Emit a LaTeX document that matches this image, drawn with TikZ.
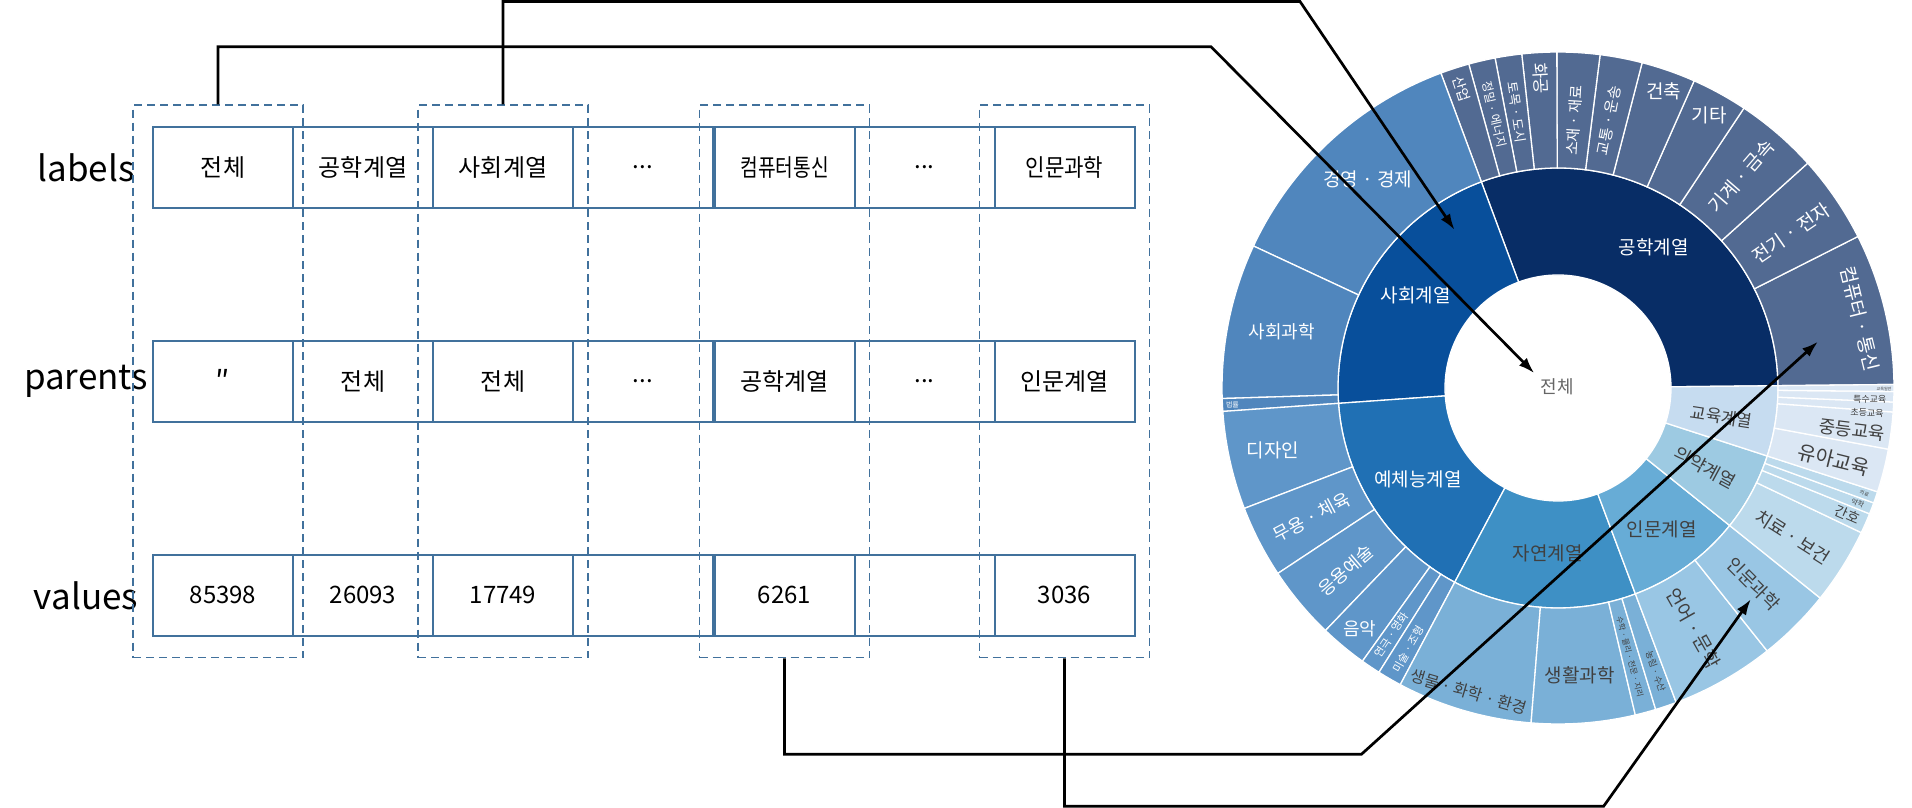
\documentclass[tikz,border=0pt]{standalone}
\usepackage{fontspec}
\setmainfont{Noto Sans CJK KR}
\usetikzlibrary{arrows.meta, positioning, fit}

\definecolor{cellblue}{RGB}{65,113,156}
\definecolor{engD}{RGB}{8,45,102}
\definecolor{engL}{RGB}{82,106,146}
\definecolor{socD}{RGB}{8,79,155}
\definecolor{socL}{RGB}{80,134,189}
\definecolor{artD}{RGB}{32,112,180}
\definecolor{artL}{RGB}{95,150,201}
\definecolor{natD}{RGB}{62,144,197}
\definecolor{natL}{RGB}{122,176,215}
\definecolor{humD}{RGB}{103,172,214}
\definecolor{humL}{RGB}{153,198,228}
\definecolor{medD}{RGB}{157,202,226}
\definecolor{medL}{RGB}{188,218,236}
\definecolor{eduD}{RGB}{198,220,240}
\definecolor{eduL}{RGB}{219,231,244}
\definecolor{darktext}{RGB}{64,64,64}

\newcommand{\fsz}[1]{\fontsize{#1}{#1}\selectfont}
\newcommand{\md}{\hspace{0.22em}·\hspace{0.22em}}
% one piece of the ring: start angle, end angle, inner r, outer r, colour
\newcommand{\ringseg}[5]{\fill[#5, draw=white, line width=1.3pt] (#1:#3pt) arc[start angle=#1, end angle=#2, radius=#3pt] -- (#2:#4pt) arc[start angle=#2, end angle=#1, radius=#4pt] -- cycle;}

\begin{document}
\begin{tikzpicture}[x=1pt, y=1pt, node distance=0pt, auto]
            \tikzstyle{cell} = [rectangle, draw=cellblue, line width=2pt, outer sep=0pt, inner sep=0pt, minimum width=140pt, minimum height=80.5pt, font=\fsz{24}]
            \tikzstyle{group} = [rectangle, draw=cellblue, line width=1.3pt, dash pattern=on 8pt off 5pt, inner xsep=15pt, inner ysep=22pt]
            \tikzstyle{rowname} = [font=\fsz{35}]
            \tikzstyle{line} = [draw, -{Latex[length=16pt, width=11pt]}, line width=2.7pt]
            \tikzstyle{wl} = [text=white, inner sep=0pt]
            \tikzstyle{dl} = [text=darktext, inner sep=0pt]

            \useasboundingbox (0,0) rectangle (1912,808);

            % table
            \node [rowname] (nlab) at (86,640.6) {labels};
            \node [rowname] (npar) at (86,426.5) {parents};
            \node [rowname] (nval) at (86,212.6) {values};

            \node [cell] (lab1) at (223,640.6) {전체};
            \node [cell, right=of lab1] (lab2) {공학계열};
            \node [cell, right=of lab2] (lab3) {사회계열};
            \node [cell, right=of lab3] (lab4) {...};
            \node [cell, right=1.5pt of lab4] (lab5) {\scalebox{0.8}[1]{컴퓨터통신}};
            \node [cell, right=of lab5] (lab6) {...};
            \node [cell, right=of lab6] (lab7) {\scalebox{0.88}[1]{인문과학}};

            \node [cell, below=133.5pt of lab1] (par1) {\fsz{30}″};
            \node [cell, right=of par1] (par2) {전체};
            \node [cell, right=of par2] (par3) {전체};
            \node [cell, right=of par3] (par4) {...};
            \node [cell, right=1.5pt of par4] (par5) {공학계열};
            \node [cell, right=of par5] (par6) {...};
            \node [cell, right=of par6] (par7) {인문계열};

            \node [cell, below=133.5pt of par1] (val1) {85398};
            \node [cell, right=of val1] (val2) {26093};
            \node [cell, right=of val2] (val3) {17749};
            \node [cell, right=of val3] (val4) {};
            \node [cell, right=1.5pt of val4] (val5) {6261};
            \node [cell, right=of val5] (val6) {};
            \node [cell, right=of val6] (val7) {3036};

            \node [group, fit=(lab1)(val1), xshift=-5pt] (g1) {};
            \node [group, fit=(lab3)(val3)] (g2) {};
            \node [group, fit=(lab5)(val5)] (g3) {};
            \node [group, fit=(lab7)(val7)] (g4) {};

            % sunburst
            \begin{scope}[shift={(1558,420)}]
            \ringseg{0.6}{110.4}{113}{220}{engD}
            \ringseg{110.4}{184}{113}{220}{socD}
            \ringseg{184}{242}{113}{220}{artD}
            \ringseg{242}{290.6}{113}{220}{natD}
            \ringseg{290.6}{321.3}{113}{220}{humD}
            \ringseg{321.3}{342}{113}{220}{medD}
            \ringseg{342}{360.6}{113}{220}{eduD}

            \ringseg{0.6}{26.8}{220}{336}{engL}
            \ringseg{26.8}{42}{220}{336}{engL}
            \ringseg{42}{56.4}{220}{336}{engL}
            \ringseg{56.4}{66.1}{220}{336}{engL}
            \ringseg{66.1}{75.5}{220}{336}{engL}
            \ringseg{75.5}{82.8}{220}{336}{engL}
            \ringseg{82.8}{90.2}{220}{336}{engL}
            \ringseg{90.2}{96.2}{220}{336}{engL}
            \ringseg{96.2}{100.8}{220}{336}{engL}
            \ringseg{100.8}{105.4}{220}{336}{engL}
            \ringseg{105.4}{110.4}{220}{336}{engL}
            \ringseg{110.4}{155}{220}{336}{socL}
            \ringseg{155}{181.8}{220}{336}{socL}
            \ringseg{181.8}{184}{220}{336}{socL}
            \ringseg{184}{201}{220}{336}{artL}
            \ringseg{201}{213.5}{220}{336}{artL}
            \ringseg{213.5}{226.2}{220}{336}{artL}
            \ringseg{226.2}{234.4}{220}{336}{artL}
            \ringseg{234.4}{237.8}{220}{336}{artL}
            \ringseg{237.8}{242}{220}{336}{artL}
            \ringseg{242}{265.4}{220}{336}{natL}
            \ringseg{265.4}{283.3}{220}{336}{natL}
            \ringseg{283.3}{286.9}{220}{336}{natL}
            \ringseg{286.9}{290.6}{220}{336}{natL}
            \ringseg{290.6}{308.5}{220}{336}{humL}
            \ringseg{308.5}{321.3}{220}{336}{humL}
            \ringseg{321.3}{334.5}{220}{336}{medL}
            \ringseg{334.5}{338}{220}{336}{medL}
            \ringseg{338}{340}{220}{336}{medL}
            \ringseg{340}{342}{220}{336}{medL}
            \ringseg{342}{349.5}{220}{336}{eduL}
            \ringseg{349.5}{355.9}{220}{336}{eduL}
            \ringseg{355.9}{357.6}{220}{336}{eduL}
            \ringseg{357.6}{359.4}{220}{336}{eduL}
            \ringseg{359.4}{360.6}{220}{336}{eduL}

            \node [text=darktext!80, inner sep=0pt, font=\fsz{18}] (tot) at (-1,1.3) {전체};

            \node [wl, font=\fsz{19}] (eng) at (55.8:170pt) {공학계열};
            \node [wl, font=\fsz{19}] (soc) at (146.8:170pt) {사회계열};
            \node [wl, font=\fsz{19}] (art) at (-146.9:167pt) {예체능계열};
            \node [dl, font=\fsz{19}] (nat) at (-93.6:166pt) {자연계열};
            \node [dl, font=\fsz{19}] (hum) at (-53.7:175pt) {인문계열};
            \node [dl, font=\fsz{18}, rotate=-28.4] (med) at (-28.4:167pt) {의약계열};
            \node [dl, font=\fsz{17}, rotate=-8.7] (edu) at (-10:166pt) {교육계열};

            \node [wl, font=\fsz{19}, rotate=-76.3] (comp) at (12.9:310pt) {컴퓨터\md 통신};
            \node [wl, font=\fsz{19}, rotate=34.4] (elec) at (33.6:280pt) {전기\md 전자};
            \node [wl, font=\fsz{19}, rotate=49.2] (mech) at (49.1:280pt) {기계\md 금속};
            \node [wl, font=\fsz{19}] (misc) at (61:312pt) {기타};
            \node [wl, font=\fsz{19}] (arch) at (70.4:315pt) {건축};
            \node [wl, font=\fsz{15}, rotate=79.2] (trans) at (79.2:272pt) {교통\md 운송};
            \node [wl, font=\fsz{15}, rotate=86.5] (mat) at (86.5:268pt) {소재\md 재료};
            \node [wl, font=\fsz{17}, rotate=-86.8] (chem) at (93.2:310pt) {화공};
            \node [wl, font=\fsz{13}, rotate=-81.5] (civil) at (98.5:279pt) {토목\md 도시};
            \node [wl, font=\fsz{12}, rotate=-76.9] (prec) at (103.1:281pt) {정밀\md 에너지};
            \node [wl, font=\fsz{14}, rotate=-72.1] (ind) at (107.9:314pt) {산업};
            \node [wl, font=\fsz{19}] (biz) at (132.4:282pt) {경영\md 경제};
            \node [wl, font=\fsz{18}] (socsci) at (168.5:282pt) {사회과학};
            \node [wl, font=\fsz{7}] (law) at (183:326pt) {법률};
            \node [wl, font=\fsz{19}] (design) at (192.4:292pt) {디자인};
            \node [wl, font=\fsz{18}, rotate=27.7] (sport) at (207.7:278pt) {무용\md 체육};
            \node [wl, font=\fsz{18}, rotate=40.7] (apart) at (220.7:280pt) {응용예술};
            \node [wl, font=\fsz{18}] (music) at (230.5:312pt) {음악};
            \node [wl, font=\fsz{11}, rotate=56] (film) at (236:298pt) {연극\md 영화};
            \node [wl, font=\fsz{11}, rotate=60.2] (fine) at (240.2:301pt) {미술\md 조형};
            \node [dl, font=\fsz{16}, rotate=-16.4] (bio) at (253.6:317pt) {생물\md 화학\md 환경};
            \node [dl, font=\fsz{19}] (life) at (274.3:288pt) {생활과학};
            \node [dl, font=\fsz{8}, rotate=-75] (math) at (285:278pt) {수학\md 물리\md 천문\md 지리};
            \node [dl, font=\fsz{9}, rotate=-71] (agri) at (289:300pt) {농림\md 수산};
            \node [dl, font=\fsz{19}, rotate=-60.5] (lang) at (299.5:276pt) {언어\md 문학};
            \node [dl, font=\fsz{18}, rotate=-45.1] (humsci) at (314.9:277pt) {인문과학};
            \node [dl, font=\fsz{18}, rotate=-32.4] (ther) at (327.6:278pt) {치료\md 보건};
            \node [dl, font=\fsz{14}, rotate=-23.6] (nurse) at (336.4:316pt) {간호};
            \node [dl, font=\fsz{7}, rotate=-21] (pharm) at (339:321pt) {약학};
            \node [dl, font=\fsz{5}, rotate=-19] (medi) at (341:324pt) {의료};
            \node [dl, font=\fsz{20}, rotate=-14] (kinder) at (345.4:285pt) {유아교육};
            \node [dl, font=\fsz{18}, rotate=-7] (second) at (351.9:297pt) {중등교육};
            \node [dl, font=\fsz{9}, rotate=-3] (elem) at (355.4:310pt) {초등교육};
            \node [dl, font=\fsz{9}, rotate=-2] (spec) at (357.9:312pt) {특수교육};
            \node [dl, font=\fsz{4}] (edugen) at (-0.1:326pt) {교육일반};

            \coordinate (tip1) at (148:28pt);
            \coordinate (tip2) at (123.2:189pt);
            \coordinate (tip3) at (10.1:264pt);
            \coordinate (tip4) at (-47.6:286pt);
            \end{scope}

            % connectors
            \coordinate (k1) at (1211,761.3);
            \coordinate (k2) at (1300,806.5);
            \coordinate (k3) at (1361.4,53.7);
            \coordinate (k4) at (1603.6,1.7);

            \path [line] (g1.north) |- (k1) -- (tip1);
            \path [line] (g2.north) |- (k2) -- (tip2);
            \path [line] (g3.south) |- (k3) -- (tip3);
            \path [line] (g4.south) |- (k4) -- (tip4);
        \end{tikzpicture}
\end{document}
